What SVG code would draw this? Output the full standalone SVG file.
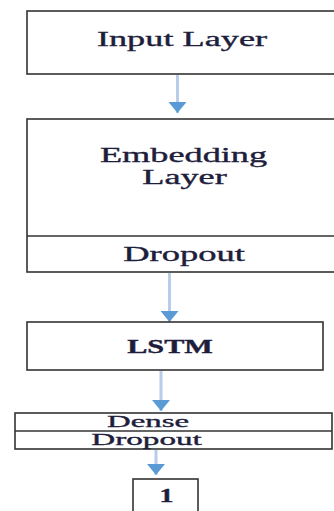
<svg xmlns="http://www.w3.org/2000/svg" width="334" height="511" viewBox="0 0 334 511">
<style>
.box{fill:#fff;stroke:#333;stroke-width:1.6}
.div{stroke:#333;stroke-width:1.6}
.t{font-family:"Liberation Serif","Times New Roman",serif;fill:#1e1e3c;stroke:#1e1e3c;stroke-width:0.35;text-anchor:middle}
.big{font-size:20.5px}
.sm{font-size:18px}
.xs{font-size:17px}
.shaft{stroke:#b7cdea;stroke-width:3;fill:none}
</style>
<defs>
<marker id="ah" viewBox="0 0 11 18" refX="11" refY="9" markerWidth="11" markerHeight="18" markerUnits="userSpaceOnUse" orient="auto">
<path d="M0,0 L11,9 L0,18 z" fill="#5b9bd5"/>
</marker>
</defs>
<rect width="334" height="511" fill="#fff"/>
<g id="connectors">
<line class="shaft" x1="177.5" y1="75" x2="177.5" y2="113" marker-end="url(#ah)"/>
<line class="shaft" x1="169.5" y1="273" x2="169.5" y2="322" marker-end="url(#ah)"/>
<line class="shaft" x1="161" y1="371" x2="161" y2="411" marker-end="url(#ah)"/>
<line class="shaft" x1="156" y1="450" x2="156" y2="475" marker-end="url(#ah)"/>
</g>
<g id="input-layer">
<rect class="box" x="27" y="11" width="320" height="63"/>
<text class="t big" transform="translate(182,46) scale(1.77,1)">Input Layer</text>
</g>
<g id="embedding-layer">
<rect class="box" x="27" y="119" width="320" height="153"/>
<line class="div" x1="27" y1="236" x2="347" y2="236"/>
<text class="t big" transform="translate(183.5,162) scale(1.77,1)">Embedding</text>
<text class="t big" transform="translate(184.5,184) scale(1.77,1)">Layer</text>
<text class="t big" transform="translate(184,261) scale(1.78,1)">Dropout</text>
</g>
<g id="lstm">
<rect class="box" x="27" y="322" width="296" height="48"/>
<text class="t sm" transform="translate(170,353) scale(1.68,1)" font-weight="bold">LSTM</text>
</g>
<g id="dense-dropout">
<rect class="box" x="15" y="413" width="317" height="36"/>
<line class="div" x1="15" y1="431" x2="332" y2="431"/>
<text class="t xs" transform="translate(148,427) scale(1.93,1)">Dense</text>
<text class="t xs" transform="translate(146.5,444.5) scale(1.95,1)">Dropout</text>
</g>
<g id="output">
<rect class="box" x="133" y="479" width="65" height="40"/>
<text class="t sm" transform="translate(166.5,502) scale(1.55,1)" font-weight="bold">1</text>
</g>
</svg>
